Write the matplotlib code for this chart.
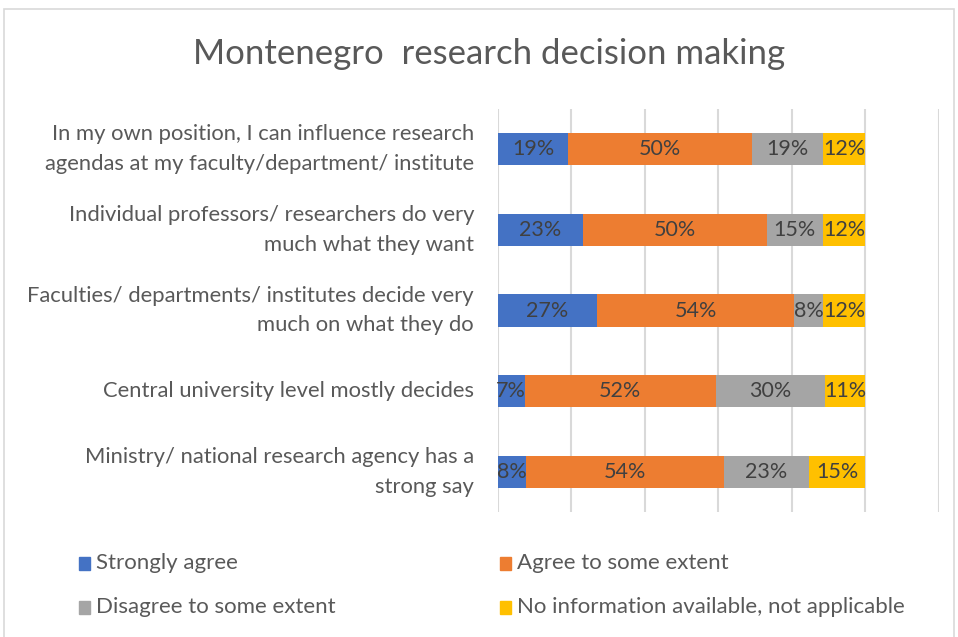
import matplotlib.pyplot as plt
from matplotlib.patches import Rectangle
import numpy as np

plt.rcParams['font.family'] = ['Lato', 'DejaVu Sans']

categories = [
    'In my own position, I can influence research\nagendas at my faculty/department/ institute',
    'Individual professors/ researchers do very\nmuch what they want',
    'Faculties/ departments/ institutes decide very\nmuch on what they do',
    'Central university level mostly decides',
    'Ministry/ national research agency has a\nstrong say',
]
series = ['Strongly agree', 'Agree to some extent',
          'Disagree to some extent', 'No information available, not applicable']
colors = ['#4472C4', '#ED7D31', '#A5A5A5', '#FFC000']

# percent values per series, one per category (top to bottom)
strongly_agree = [19.2, 23.1, 26.9, 7.4, 7.7]
agree_some = [50.0, 50.0, 53.8, 51.9, 53.8]
disagree_some = [19.2, 15.4, 7.7, 29.6, 23.1]
no_info = [11.5, 11.5, 11.5, 11.1, 15.4]
values = [strongly_agree, agree_some, disagree_some, no_info]

fig = plt.figure(figsize=(9.58, 6.37), dpi=100)
fig.patches.append(Rectangle((4 / 958, -0.1), 950 / 958, 1 - 9 / 637 + 0.1,
                             transform=fig.transFigure, fill=False,
                             edgecolor='#d9d9d9', linewidth=1.2))

ax = fig.add_axes([0.5195, 0.196, 0.4607, 0.633])
y = np.arange(len(categories))
left = np.zeros(len(categories))
for name, vals, c in zip(series, values, colors):
    vals = np.array(vals) / 100
    bars = ax.barh(y, vals, left=left, height=0.4, color=c, label=name, zorder=2)
    for yi, l, v in zip(y, left, vals):
        ax.text(l + v / 2, yi, f'{v * 100:.0f}%', ha='center', va='center',
                fontsize=15.5, color='#404040', zorder=3)
    left += vals

ax.set_xlim(0, 1.2)
ax.set_ylim(4.5, -0.5)
ax.set_xticks(np.arange(0, 1.21, 0.2))
ax.set_xticklabels([])
ax.grid(axis='x', color='#d9d9d9', linewidth=1.5, zorder=0)
ax.tick_params(length=0)
for s in ax.spines.values():
    s.set_visible(False)
ax.set_yticks(y)
ax.set_yticklabels(categories, fontsize=15.8, color='#595959', linespacing=1.62,
                   va='center')
ax.tick_params(axis='y', pad=17)

fig.text(0.51, 0.915, 'Montenegro  research decision making', ha='center',
         va='center', fontsize=25, color='#595959')

# legend drawn by hand to match the two-column layout
leg_pos = [(79, 563), (500, 563), (79, 607), (500, 607)]
for (px, py), name, c in zip(leg_pos, series, colors):
    fig.patches.append(Rectangle((px / 958, 1 - (py + 7) / 637), 11 / 958, 13 / 637,
                                 transform=fig.transFigure, color=c))
    fig.text((px + 17) / 958, 1 - py / 637, name, ha='left', va='center',
             fontsize=16, color='#595959')

fig.savefig('out.png', dpi=100)
